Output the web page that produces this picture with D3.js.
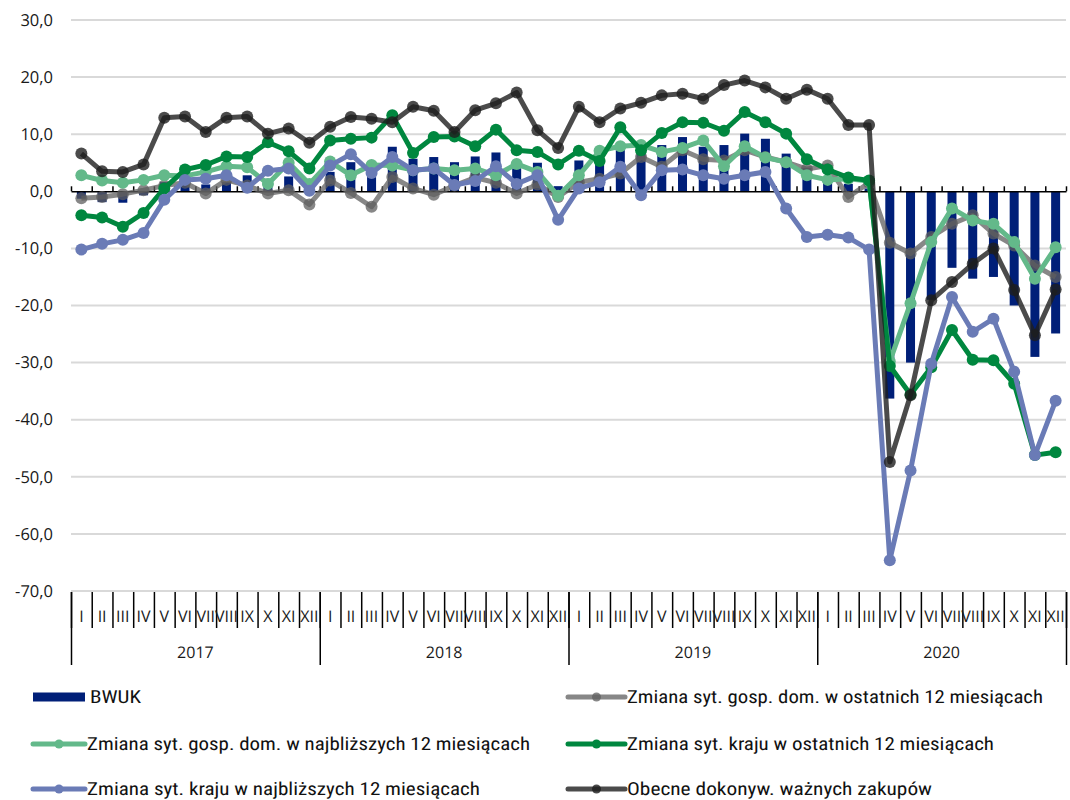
<!DOCTYPE html>
<html><head><meta charset="utf-8">
<script src="https://cdn.jsdelivr.net/npm/d3@7"></script>
<style>body{margin:0;background:#fff} svg{display:block} text{text-rendering:geometricPrecision}</style>
</head><body><svg id="c" width="1070" height="800"></svg>
<script>
const years = ["2017","2018","2019","2020"];
const monthLabels = ["I","II","III","IV","V","VI","VII","VIII","IX","X","XI","XII"];
const yTicks = [30,20,10,0,-10,-20,-30,-40,-50,-60,-70];

const bwuk = [
  -1.3,-1.9,-2.0,-0.7,1.6,1.3,1.2,1.6,2.8,2.2,2.6,2.0,
  3.4,5.1,5.3,7.8,5.7,6.0,5.1,6.1,6.8,4.8,5.0,0.9,
  5.4,5.7,7.5,8.4,8.1,9.5,7.8,8.1,10.1,9.2,6.6,4.1,
  1.9,1.3,0.5,-36.3,-30.0,-19.0,-13.4,-15.3,-15.0,-20.0,-29.0,-24.9];
const gospDomOstatnich = [
  -1.2,-1.0,-0.5,0.2,1.0,1.5,-0.4,2.0,1.0,-0.4,0.2,-2.3,
  1.9,-0.3,-2.7,2.5,0.5,-0.6,1.0,2.4,1.5,-0.4,1.2,-1.0,
  1.6,2.2,3.1,6.0,4.3,7.2,5.6,5.4,7.2,6.0,5.1,3.9,
  4.5,-1.0,1.5,-9.0,-10.9,-8.0,-5.7,-4.2,-7.4,-9.5,-13.0,-15.0];
const gospDomNajblizszych = [
  2.8,1.9,1.5,2.0,2.8,2.7,3.4,4.4,4.2,1.3,5.0,1.3,
  5.2,2.8,4.6,4.5,3.7,4.0,3.7,4.0,2.8,4.8,3.4,-0.8,
  2.8,7.1,7.9,8.1,6.9,7.6,8.9,4.4,7.9,5.9,5.1,2.8,
  2.0,2.2,1.8,-29.8,-19.6,-8.9,-3.0,-5.1,-5.7,-8.9,-15.3,-9.8];
const krajOstatnich = [
  -4.2,-4.6,-6.2,-3.8,0.5,3.8,4.6,6.1,6.0,8.6,7.0,4.0,
  8.9,9.2,9.4,13.3,6.7,9.5,9.6,7.9,10.8,7.2,6.9,4.7,
  7.1,5.3,11.2,7.2,10.2,12.1,12.0,10.6,13.9,12.1,10.1,5.6,
  3.8,2.4,1.9,-30.6,-35.6,-30.8,-24.3,-29.5,-29.6,-33.7,-46.2,-45.7];
const krajNajblizszych = [
  -10.2,-9.2,-8.5,-7.3,-1.5,2.0,2.2,2.8,0.6,3.6,4.0,0.1,
  4.5,6.5,3.2,6.0,3.7,4.0,1.1,1.8,4.4,1.3,2.8,-5.0,
  0.5,1.6,4.3,-0.7,3.7,3.8,2.8,2.2,2.8,3.4,-3.0,-8.0,
  -7.6,-8.1,-10.2,-64.6,-48.9,-30.2,-18.5,-24.6,-22.3,-31.6,-46.2,-36.7];
const zakupy = [
  6.6,3.5,3.4,4.7,12.9,13.1,10.4,12.9,13.1,10.1,11.0,8.5,
  11.3,13.0,12.7,12.1,14.8,14.1,10.4,14.2,15.4,17.3,10.7,7.6,
  14.8,12.1,14.5,15.5,16.8,17.1,16.2,18.6,19.4,18.2,16.2,17.8,
  16.2,11.6,11.6,-47.4,-35.7,-19.1,-15.9,-12.7,-10.0,-17.3,-25.2,-17.2];

const series = [
  {name:"Zmiana syt. gosp. dom. w ostatnich 12 miesiącach", data:gospDomOstatnich, color:"#5f5f5f", op:0.75, col:1, row:0, w:416},
  {name:"Zmiana syt. gosp. dom. w najbliższych 12 miesiącach", data:gospDomNajblizszych, color:"#63b98a", op:1, col:0, row:1, w:443},
  {name:"Zmiana syt. kraju w ostatnich 12 miesiącach", data:krajOstatnich, color:"#00873f", op:1, col:1, row:1, w:367},
  {name:"Zmiana syt. kraju w najbliższych 12 miesiącach", data:krajNajblizszych, color:"#6a7bb6", op:1, col:0, row:2, w:393},
  {name:"Obecne dokonyw. ważnych zakupów", data:zakupy, color:"#1e1e1e", op:0.8, col:1, row:2, w:305}
];

const svg = d3.select("#c");
const n = years.length * monthLabels.length;
const idx = d3.range(n);
const x = d3.scaleBand().domain(idx).range([71,1066]).padding(0);
const xb = d3.scaleLinear().domain([0,n]).range([71,1066]);
const y = d3.scaleLinear().domain([-70,30]).range([591,20]);
const bw = x.bandwidth();
const cx = i => x(i) + bw/2;
const fmt = v => d3.format(".1f")(v).replace(".",",").replace("\u2212","-");
const axisFont = "'Open Sans', 'Noto Sans', sans-serif";

// gridlines
svg.append("g").selectAll("line").data(yTicks.filter(t=>t!==0)).join("line")
  .attr("x1",71).attr("x2",1066).attr("y1",d=>y(d)).attr("y2",d=>y(d))
  .attr("stroke","#d9d9d9").attr("stroke-width",2);

// y labels
svg.append("g").selectAll("text").data(yTicks).join("text")
  .attr("x",53).attr("y",d=>y(d)).attr("dy","0.35em").attr("text-anchor","end")
  .attr("font-family",axisFont).attr("font-size",16.5).attr("fill","#1a1a1a")
  .text(fmt);

// bars
svg.append("g").selectAll("rect").data(bwuk).join("rect")
  .attr("x",(d,i)=>cx(i)-4.5).attr("width",9)
  .attr("y",d=>Math.min(y(d),y(0))).attr("height",d=>Math.abs(y(d)-y(0)))
  .attr("fill","#001f78");

// zero axis
const zeroAxis = svg.append("g").attr("transform",`translate(0,${y(0)})`)
  .call(d3.axisTop(xb).tickValues(d3.range(n+1)).tickSize(5).tickSizeOuter(0).tickFormat(""));
zeroAxis.selectAll("line,path").attr("stroke","#000").attr("stroke-width",1.5);

// category axis separators
const catAxis = svg.append("g").attr("transform",`translate(0,${y(-70)+1})`)
  .call(d3.axisBottom(xb).tickValues(d3.range(n+1)).tickSize(36).tickSizeOuter(0).tickFormat(""));
catAxis.select(".domain").remove();
catAxis.selectAll("line").attr("stroke","#000").attr("stroke-width",1.5);
const yearAxis = svg.append("g").attr("transform",`translate(0,${y(-70)+1})`)
  .call(d3.axisBottom(xb).tickValues(d3.range(0,n+1,12)).tickSize(73).tickSizeOuter(0).tickFormat(""));
yearAxis.select(".domain").remove();
yearAxis.selectAll("line").attr("stroke","#000").attr("stroke-width",1.5);

// month labels
svg.append("g").attr("opacity",0.999).selectAll("text").data(idx).join("text")
  .attr("x",i=>cx(i)).attr("y",616).attr("dy","0.35em").attr("text-anchor","middle")
  .attr("font-family",axisFont).attr("font-size",16).attr("fill","#1a1a1a")
  .text(i=>monthLabels[i%12]);
// year labels
svg.append("g").selectAll("text").data(years).join("text")
  .attr("x",(d,k)=>xb(k*12+6)).attr("y",652).attr("dy","0.35em").attr("text-anchor","middle")
  .attr("font-family",axisFont).attr("font-size",16).attr("fill","#1a1a1a")
  .text(d=>d);

// lines
const line = d3.line().x((d,i)=>cx(i)).y(d=>y(d));
series.forEach(s=>{
  const g = svg.append("g");
  g.append("path").attr("d",line(s.data)).attr("fill","none")
    .attr("stroke",s.color).attr("stroke-width",5).attr("stroke-opacity",s.op)
    .attr("stroke-linejoin","round");
  g.selectAll("circle").data(s.data).join("circle")
    .attr("cx",(d,i)=>cx(i)).attr("cy",d=>y(d)).attr("r",6)
    .attr("fill",s.color).attr("fill-opacity",s.op);
});

// legend
const legFont = "'Liberation Sans Narrow', 'Roboto Condensed', 'Roboto', sans-serif";
const colX = [33, 568], rowY = [697, 744, 789];
const lg = svg.append("g");
lg.append("rect").attr("x",33).attr("y",rowY[0]-4.5).attr("width",52).attr("height",9).attr("fill","#001f78");
lg.append("text").attr("x",90).attr("y",rowY[0]).attr("dy","0.35em")
  .attr("font-family",legFont).attr("font-size",18).attr("fill","#111")
  .attr("textLength",51).attr("lengthAdjust","spacingAndGlyphs").text("BWUK");
series.forEach(s=>{
  const x0 = colX[s.col], yy = rowY[s.row];
  const x1 = s.col===0 ? 85 : 625;
  lg.append("line").attr("x1",x0).attr("x2",x1).attr("y1",yy).attr("y2",yy)
    .attr("stroke",s.color).attr("stroke-width",5).attr("stroke-opacity",s.op).attr("stroke-linecap","round");
  lg.append("circle").attr("cx",(x0+x1)/2).attr("cy",yy).attr("r",4.5)
    .attr("fill",s.color).attr("fill-opacity",s.op);
  lg.append("text").attr("x",x1+2).attr("y",yy).attr("dy","0.35em")
    .attr("font-family",legFont).attr("font-size",18).attr("fill","#111")
    .attr("textLength",s.w).attr("lengthAdjust","spacingAndGlyphs").text(s.name);
});
</script></body></html>
